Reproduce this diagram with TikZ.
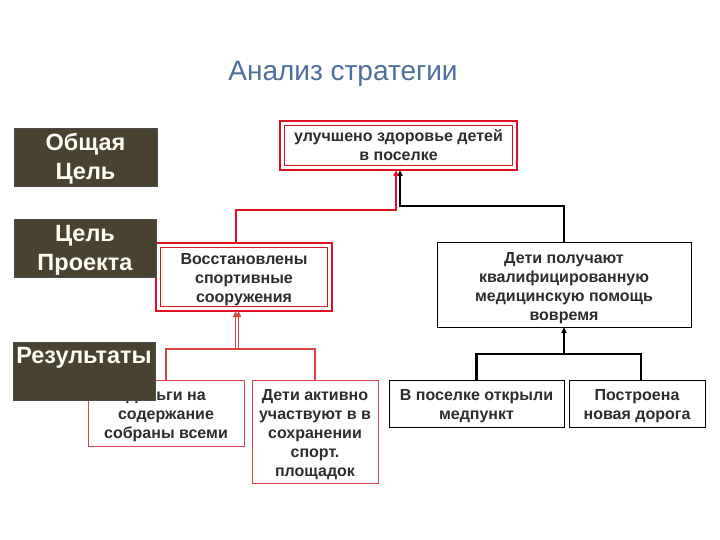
\documentclass[tikz,border=0pt]{standalone}
\usepackage{fontspec}
\setmainfont{Liberation Sans}
\usetikzlibrary{arrows.meta}
\definecolor{darkbox}{RGB}{74,66,48}
\definecolor{redline}{RGB}{222,18,28}
\definecolor{lightred}{RGB}{212,70,70}
\definecolor{titleblue}{RGB}{78,110,155}
\definecolor{txt}{RGB}{45,45,45}
\newcommand\lowtext[2]{\raisebox{-#1}[\height][\depth]{\begin{tabular}{@{}c@{}}#2\end{tabular}}}
\begin{document}
\begin{tikzpicture}[x=1pt,y=-1pt,
  dark/.style={fill=darkbox, draw=black!70, line width=0.8pt, text=white!95!yellow,
    font=\bfseries\fontsize{23.5}{29}\selectfont, inner sep=0pt, outer sep=0pt, anchor=north west},
  box/.style={fill=white, text=txt, font=\bfseries\fontsize{16}{19}\selectfont,
    inner sep=0pt, outer sep=0pt, anchor=north west},
  redbox/.style={box, draw=redline, line width=2.6pt},
  lredbox/.style={box, draw=lightred, line width=1pt},
  blkbox/.style={box, draw=black, line width=1pt},
  inner/.style={draw=redline, line width=0.9pt},
  redconn/.style={draw=redline, line width=2.4pt},
  lredconn/.style={draw=lightred, line width=1.6pt},
  blkconn/.style={draw=black, line width=1.6pt},
  tip/.style={-{Triangle[length=6pt,width=5pt]}}
]
\useasboundingbox (0,0) rectangle (720,540);

% title
\node[text=titleblue, font=\fontsize{28}{32}\selectfont] (title) at (343,74) {Анализ стратегии};

% coordinates for connector junctions
\coordinate (rj) at (396,210);
\coordinate (bj) at (400,206);
\coordinate (rb1) at (235.5,349);
\coordinate (rb2) at (238.5,349);
\coordinate (bb) at (564,354);

% boxes
\node[redbox, minimum width=237pt, minimum height=49pt] (top) at (280,121) {\lowtext{2pt}{улучшено здоровье детей\\в поселке}};
\node[redbox, minimum width=176pt, minimum height=68pt] (sports) at (156,243) {\lowtext{3pt}{Восстановлены\\спортивные\\сооружения}};
\node[blkbox, minimum width=254pt, minimum height=85pt] (med) at (437,242) {\lowtext{4pt}{Дети получают\\квалифицированную\\медицинскую помощь\\вовремя}};
\node[lredbox, minimum width=156pt, minimum height=66pt] (money) at (88,380) {\lowtext{3pt}{Деньги на\\содержание\\собраны всеми}};
\node[lredbox, minimum width=126pt, minimum height=103pt] (active) at (252,380) {\lowtext{3pt}{Дети активно\\участвуют в в\\сохранении\\спорт.\\площадок}};
\node[blkbox, minimum width=175pt, minimum height=47pt] (clinic) at (389,380) {\lowtext{3pt}{В поселке открыли\\медпункт}};
\node[blkbox, minimum width=136pt, minimum height=47pt] (road) at (569,380) {\lowtext{3pt}{Построена\\новая дорога}};

% inner lines of red boxes
\draw[inner] ([shift={(4.5pt,-4.5pt)}]top.north west) rectangle ([shift={(-4.5pt,4.5pt)}]top.south east);
\draw[inner] ([shift={(4.5pt,-4.5pt)}]sports.north west) rectangle ([shift={(-4.5pt,4.5pt)}]sports.south east);

% connectors
\draw[blkconn, tip] (med.north) |- (bj) -- ([xshift=1.5pt]top.south);
\draw[redconn, tip] ([xshift=-8pt]sports.north) |- (rj) -- ([xshift=-2.5pt]top.south);
\draw[lredconn] (money.north) -- ++(0,-31) -| (active.north);
\draw[lredconn, line width=1.2pt, tip] (rb1) -- (rb1 |- sports.south);
\draw[lredconn, line width=1.2pt, tip] (rb2) -- (rb2 |- sports.south);
\draw[blkconn, line width=2.2pt] (clinic.north) -- ++(0,-26) -| ([xshift=4pt]road.north);
\draw[blkconn, line width=2.2pt, tip] (bb) -- (med.south);

% dark level boxes
\node[dark, minimum width=143pt, minimum height=58pt] (goal) at (14,128) {\lowtext{2pt}{Общая\\Цель}};
\node[dark, minimum width=142pt, minimum height=58pt] (proj) at (14,219) {\lowtext{2pt}{Цель\\Проекта}};
\node[dark, minimum width=142pt, minimum height=58pt] (res) at (13,342) {};
\node[text=white!95!yellow, font=\bfseries\fontsize{23.5}{29}\selectfont, anchor=north, inner sep=0pt] (reslabel) at ([yshift=-5pt]res.north) {Результаты};
\end{tikzpicture}
\end{document}
